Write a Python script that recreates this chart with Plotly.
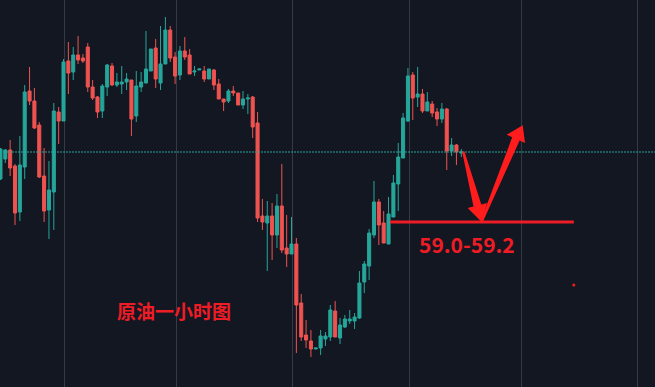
import plotly.graph_objects as go

# ---- data (hourly crude-oil candles) ----
opens = [59.53, 59.73, 59.82, 59.66, 59.20, 59.65, 60.41, 60.31, 60.07, 59.56,
         59.22, 59.40, 60.20, 60.11, 60.71, 60.60, 60.77, 60.74, 60.85, 60.45,
         60.35, 60.21, 60.45, 60.66, 60.47, 60.48, 60.50, 60.52, 60.16, 60.45,
         60.49, 60.61, 60.84, 60.49, 60.68, 61.02, 60.75, 60.57, 60.81, 60.77,
         60.60, 60.62, 60.61, 60.53, 60.62, 60.48, 60.33, 60.31, 60.41, 60.39,
         60.27, 60.33, 60.35, 60.09, 59.16, 59.09, 59.16, 58.97, 59.26, 58.84,
         58.78, 58.88, 58.29, 57.97, 57.91, 57.83, 57.84, 57.93, 57.95, 58.21,
         57.94, 58.05, 58.11, 58.11, 58.14, 58.50, 58.66, 58.97, 59.30, 59.09,
         58.88, 59.15, 59.48, 59.74, 60.11, 60.57, 60.35, 60.38, 60.21, 60.28,
         60.20, 60.13, 60.23, 59.81, 59.87, 59.79]
highs = [59.84, 59.83, 59.92, 59.68, 59.96, 60.47, 60.65, 60.44, 60.10, 59.84,
         59.71, 60.29, 60.25, 60.73, 60.90, 60.85, 60.96, 60.78, 60.89, 60.52,
         60.36, 60.48, 60.68, 60.69, 60.59, 60.66, 60.59, 60.52, 60.61, 60.60,
         61.01, 60.83, 60.93, 61.06, 61.15, 61.06, 60.80, 60.86, 60.95, 60.83,
         60.66, 60.63, 60.66, 60.63, 60.63, 60.53, 60.33, 60.43, 60.46, 60.39,
         60.41, 60.38, 60.36, 60.20, 59.33, 59.31, 59.29, 59.38, 59.68, 59.17,
         59.15, 58.94, 58.38, 58.12, 58.02, 57.84, 58.02, 58.00, 58.27, 58.31,
         58.14, 58.17, 58.22, 58.19, 58.61, 58.71, 59.03, 59.51, 59.33, 59.21,
         59.35, 59.57, 59.89, 60.19, 60.64, 60.60, 60.65, 60.43, 60.40, 60.31,
         60.24, 60.29, 60.24, 59.94, 59.88, 59.83]
lows = [59.52, 59.69, 59.56, 59.07, 59.11, 59.53, 60.27, 60.03, 59.54, 59.10,
        58.93, 59.02, 59.88, 60.11, 60.38, 60.52, 60.68, 60.69, 60.40, 60.32,
        60.14, 60.14, 60.36, 60.46, 60.45, 60.38, 60.42, 59.96, 60.10, 60.40,
        60.49, 60.61, 60.44, 60.42, 60.68, 60.70, 60.48, 60.52, 60.72, 60.58,
        60.56, 60.62, 60.50, 60.53, 60.42, 60.33, 60.21, 60.29, 60.36, 60.27,
        60.23, 60.18, 59.94, 59.10, 59.02, 58.61, 58.72, 58.84, 58.79, 58.65,
        58.78, 57.79, 57.91, 57.84, 57.75, 57.83, 57.77, 57.86, 57.91, 57.95,
        57.88, 58.04, 58.08, 58.03, 58.13, 58.39, 58.52, 58.94, 58.87, 58.89,
        58.88, 59.15, 59.21, 59.74, 60.10, 60.12, 60.25, 60.19, 60.21, 60.15,
        60.06, 60.09, 59.62, 59.76, 59.67, 59.75]
closes = [59.83, 59.82, 59.64, 59.19, 59.67, 60.40, 60.31, 60.04, 59.55, 59.21,
          59.42, 60.21, 60.11, 60.70, 60.59, 60.77, 60.72, 60.71, 60.45, 60.34,
          60.20, 60.46, 60.67, 60.47, 60.50, 60.50, 60.53, 60.13, 60.46, 60.50,
          60.63, 60.83, 60.53, 60.68, 61.02, 60.74, 60.56, 60.81, 60.75, 60.58,
          60.61, 60.63, 60.53, 60.63, 60.47, 60.33, 60.30, 60.41, 60.39, 60.27,
          60.33, 60.34, 60.05, 59.14, 59.10, 59.16, 58.97, 59.26, 58.82, 58.78,
          58.88, 58.27, 57.95, 57.92, 57.83, 57.84, 57.96, 57.96, 58.22, 57.95,
          58.07, 58.13, 58.13, 58.15, 58.49, 58.68, 58.99, 59.30, 59.07, 58.89,
          59.18, 59.49, 59.75, 60.14, 60.56, 60.34, 60.38, 60.21, 60.30, 60.19,
          60.13, 60.23, 59.81, 59.87, 59.80, 59.80]
bars = list(range(len(opens)))

support_price = 59.10
support_label = "59.0-59.2"
title_text = "原油一小时图"
session_breaks = [13.16, 36.25, 60.16, 84.28, 107.45, 131.28]

# ---- style ----
W, H = 655, 387
BG = "#131722"
GRID = "#363a45"
UP = "#26a69a"
DOWN = "#ef5350"
RED = "#ee1c25"
ARROW = "#ff1c1c"

fig = go.Figure(go.Candlestick(
    x=bars, open=opens, high=highs, low=lows, close=closes,
    increasing=dict(line=dict(color=UP, width=1), fillcolor=UP),
    decreasing=dict(line=dict(color=DOWN, width=1), fillcolor=DOWN),
    whiskerwidth=0, showlegend=False, hoverinfo="skip",
))


def P(x, y):
    return f"{x / W:.5f},{1 - y / H:.5f}"


def poly(pts):
    return "M " + " L ".join(P(x, y) for x, y in pts) + " Z"


down_arrow = [(462.1, 151.5), (473.5, 206.5), (467.7, 208.0), (481.7, 222.0),
              (487.1, 203.0), (481.3, 204.5), (464.5, 151.5)]
up_arrow = [(480.5, 221.5), (512.2, 137.3), (506.7, 134.7), (522.7, 125.3),
            (525.0, 143.0), (519.6, 140.5), (483.0, 221.5)]

shapes = [
    # last-price dotted line
    dict(type="line", xref="paper", yref="y", x0=0, x1=1,
         y0=closes[-1], y1=closes[-1],
         line=dict(color=UP, width=1, dash="2px,1px"), layer="above"),
    # support line
    dict(type="line", xref="x", yref="y", x0=80.3, x1=118.2,
         y0=support_price, y1=support_price,
         line=dict(color=RED, width=3), layer="above"),
    dict(type="path", xref="paper", yref="paper", path=poly(down_arrow),
         fillcolor=ARROW, line=dict(width=0), layer="above"),
    dict(type="path", xref="paper", yref="paper", path=poly(up_arrow),
         fillcolor=ARROW, line=dict(width=0), layer="above"),
    dict(type="circle", xref="paper", yref="paper",
         x0=572.2 / W, x1=575.4 / W, y0=1 - 286.6 / H, y1=1 - 283.4 / H,
         fillcolor=RED, line=dict(width=0), layer="above"),
]

annotations = [
    dict(text=f"<b>{support_label}</b>", xref="paper", yref="paper",
         x=467 / W, y=1 - 243.5 / H, xanchor="center", yanchor="middle",
         showarrow=False,
         font=dict(family="Noto Sans CJK SC, Noto Sans, sans-serif", size=21, color=RED)),
    dict(text=f"<b>{title_text}</b>", xref="paper", yref="paper",
         x=174 / W, y=1 - 310 / H, xanchor="center", yanchor="middle",
         showarrow=False,
         font=dict(family="Noto Sans CJK SC, sans-serif", size=19, color=RED)),
]

fig.update_layout(
    width=W, height=H, margin=dict(l=0, r=0, t=0, b=0),
    paper_bgcolor=BG, plot_bgcolor=BG,
    shapes=shapes, annotations=annotations,
    boxgap=0.1,
    xaxis=dict(range=[-0.093, 134.93], showticklabels=False, ticks="",
               tickmode="array", tickvals=session_breaks,
               showgrid=True, gridcolor=GRID, gridwidth=1, zeroline=False,
               rangeslider=dict(visible=False), fixedrange=True),
    yaxis=dict(range=[57.45, 61.32], showticklabels=False, ticks="",
               showgrid=False, zeroline=False, fixedrange=True),
)

fig.write_html("out.html", config=dict(displayModeBar=False))
